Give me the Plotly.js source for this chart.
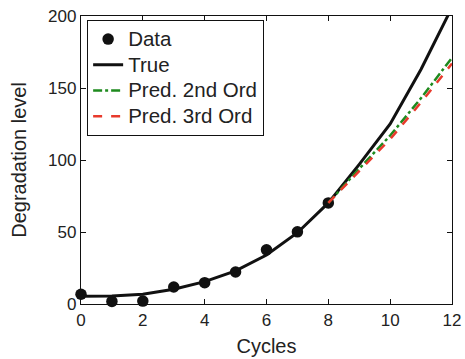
<!DOCTYPE html>
<html>
<head>
<meta charset="utf-8">
<script src="https://cdn.plot.ly/plotly-3.0.1.min.js"></script>
<style>html,body{margin:0;padding:0;background:#fff;}#chart{width:465px;height:359px;}</style>
</head>
<body>
<div id="chart"></div>
<script>
const dataCycles = [0, 1, 2, 3, 4, 5, 6, 7, 8];
const dataValues = [6.8, 1.8, 2.0, 11.8, 14.8, 22.2, 37.6, 50.1, 70.2];
const trueCycles = [0, 1, 2, 3, 4, 5, 6, 7, 8, 9, 10, 11, 12];
const trueValues = [5.3, 5.5, 6.8, 10.2, 15.5, 23, 34, 49.5, 70.2, 97, 125, 163, 206];
const predCycles = [8, 9, 10, 11, 12];
const pred2Values = [70.2, 94, 117, 143, 171];
const pred3Values = [70.2, 92.5, 114.5, 140, 167];
const seriesNames = ['Data', 'True', 'Pred. 2nd Ord', 'Pred. 3rd Ord'];

const big = s => '<span style="font-size:20.5px">' + s + '</span>';

const traces = [
  {x: dataCycles, y: dataValues, name: big(seriesNames[0]), mode: 'markers', type: 'scatter',
   marker: {color: '#111', size: 11.5}, cliponaxis: false},
  {x: trueCycles, y: trueValues, name: big(seriesNames[1]), mode: 'lines', type: 'scatter',
   line: {color: '#111', width: 3}},
  {x: predCycles, y: pred2Values, name: big(seriesNames[2]), mode: 'lines', type: 'scatter',
   line: {color: '#1e8a1e', width: 2.5, dash: 'dashdot'}},
  {x: predCycles, y: pred3Values, name: big(seriesNames[3]), mode: 'lines', type: 'scatter',
   line: {color: '#e83a2c', width: 2.5, dash: 'dash'}}
];

const axisCommon = {
  showgrid: false, zeroline: false, showline: true, linecolor: '#111', linewidth: 1.2,
  mirror: 'ticks', ticks: 'inside', ticklen: 5, tickcolor: '#111', tickwidth: 1,
  tickfont: {size: 17, color: '#222'}
};

const layout = {
  width: 465, height: 359,
  margin: {l: 81, r: 13, t: 16, b: 55},
  paper_bgcolor: '#fff', plot_bgcolor: '#fff',
  font: {family: '"Liberation Sans", Arial, sans-serif', size: 17, color: '#222'},
  showlegend: true,
  legend: {x: 0.016, y: 0.986, xanchor: 'left', yanchor: 'top',
           bordercolor: '#111', borderwidth: 1.2, bgcolor: '#fff',
           font: {size: 17.5, color: '#222'}, tracegroupgap: 0},
  xaxis: Object.assign({}, axisCommon, {range: [0, 12], tickvals: [0, 2, 4, 6, 8, 10, 12],
           title: {text: 'Cycles', font: {size: 20}, standoff: 10}}),
  yaxis: Object.assign({}, axisCommon, {range: [0, 200], tickvals: [0, 50, 100, 150, 200],
           title: {text: 'Degradation level', font: {size: 20}, standoff: 16}})
};

Plotly.newPlot('chart', traces, layout, {displayModeBar: false, staticPlot: true});
</script>
</body>
</html>
